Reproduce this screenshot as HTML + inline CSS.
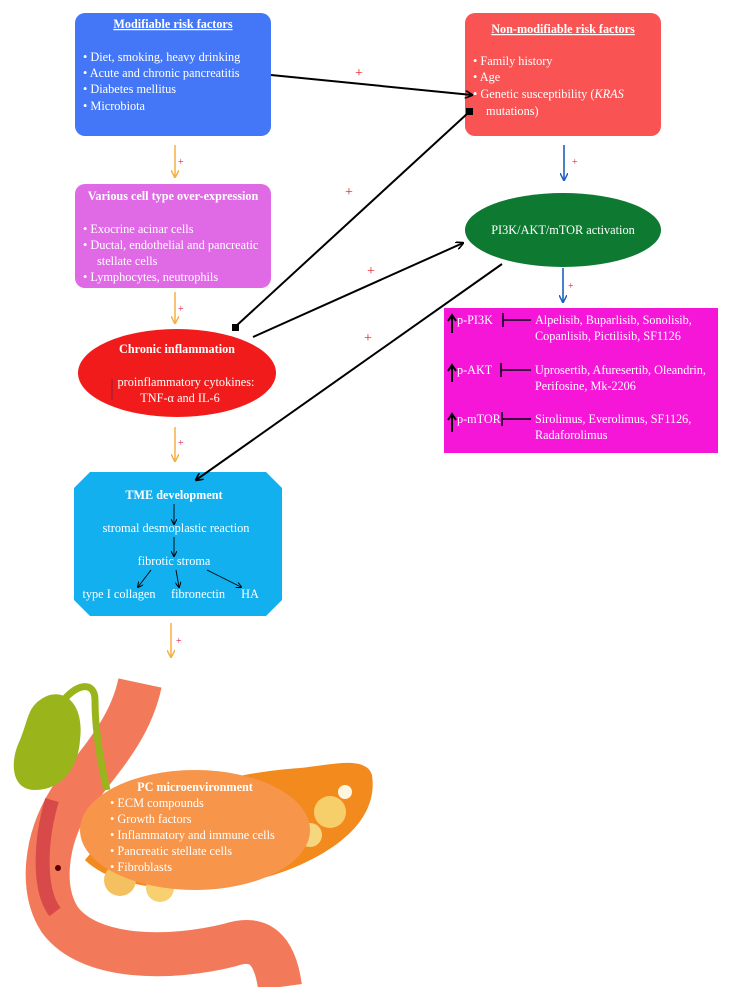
<!DOCTYPE html>
<html><head><meta charset="utf-8"><style>
body{margin:0;background:#fff;}
svg{display:block;font-family:"Liberation Serif",serif;}
</style></head><body>
<svg width="730" height="987" viewBox="0 0 730 987" xmlns="http://www.w3.org/2000/svg">
<defs>
<marker id="ab" markerWidth="8" markerHeight="8" refX="7" refY="4" orient="auto" markerUnits="userSpaceOnUse"><path d="M0,0 L8,4 L0,8" fill="none" stroke="#000" stroke-width="1.6"/></marker>
<marker id="ao" markerWidth="8" markerHeight="8" refX="7" refY="4" orient="auto" markerUnits="userSpaceOnUse"><path d="M0,0 L8,4 L0,8" fill="none" stroke="#f5b042" stroke-width="1.5"/></marker>
<marker id="abl" markerWidth="8" markerHeight="8" refX="7" refY="4" orient="auto" markerUnits="userSpaceOnUse"><path d="M0,0 L8,4 L0,8" fill="none" stroke="#1f5fbf" stroke-width="1.5"/></marker>
<marker id="at" markerWidth="6" markerHeight="6" refX="5" refY="3" orient="auto" markerUnits="userSpaceOnUse"><path d="M0,0 L6,3 L0,6" fill="none" stroke="#000" stroke-width="1"/></marker>
</defs>

<rect x="75" y="13" width="196" height="123" rx="10" fill="#4477f8"/>
<text x="173" y="28" fill="#fff" font-size="12.2" font-weight="bold" text-anchor="middle" text-decoration="underline">Modifiable risk factors</text>
<g fill="#fff" font-size="12.3">
<text x="83" y="61">•  Diet, smoking, heavy drinking</text>
<text x="83" y="77">•  Acute and chronic pancreatitis</text>
<text x="83" y="93">•  Diabetes mellitus</text>
<text x="83" y="110">•  Microbiota</text>
</g>

<rect x="465" y="13" width="196" height="123" rx="10" fill="#fa5353"/>
<text x="563" y="33" fill="#fff" font-size="12.2" font-weight="bold" text-anchor="middle" text-decoration="underline">Non-modifiable risk factors</text>
<g fill="#fff" font-size="12.3">
<text x="473" y="65">•  Family history</text>
<text x="473" y="81">•  Age</text>
<text x="473" y="98">•  Genetic susceptibility (<tspan font-style="italic">KRAS</tspan></text>
<text x="486" y="115">mutations)</text>
</g>

<rect x="75" y="184" width="196" height="104" rx="10" fill="#e06ae6"/>
<text x="173" y="200" fill="#fff" font-size="12.2" font-weight="bold" text-anchor="middle">Various cell type over-expression</text>
<g fill="#fff" font-size="12.3">
<text x="83" y="233">•  Exocrine acinar cells</text>
<text x="83" y="249">•  Ductal, endothelial and pancreatic</text>
<text x="97" y="265">stellate cells</text>
<text x="83" y="281">•  Lymphocytes, neutrophils</text>
</g>

<ellipse cx="563" cy="230" rx="98" ry="37" fill="#0e7a31"/>
<text x="563" y="234" fill="#fff" font-size="12.3" text-anchor="middle">PI3K/AKT/mTOR activation</text>

<rect x="444" y="308" width="274" height="145" fill="#f516d8"/>
<g fill="#fff" font-size="12.2">
<text x="457" y="324">p-PI3K</text>
<text x="535" y="324">Alpelisib, Buparlisib, Sonolisib,</text>
<text x="535" y="340">Copanlisib, Pictilisib, SF1126</text>
<text x="457" y="374">p-AKT</text>
<text x="535" y="374">Uprosertib, Afuresertib, Oleandrin,</text>
<text x="535" y="390">Perifosine, Mk-2206</text>
<text x="457" y="423">p-mTOR</text>
<text x="535" y="423">Sirolimus, Everolimus, SF1126,</text>
<text x="535" y="439">Radaforolimus</text>
</g>
<g stroke="#000" stroke-width="2" fill="none">
<path d="M452,333 V317"/><path d="M448,321 L452,315 L456,321"/>
<path d="M452,382 V367"/><path d="M448,371 L452,365 L456,371"/>
<path d="M452,432 V416"/><path d="M448,420 L452,414 L456,420"/>
</g>
<g stroke="#3a0040" stroke-width="2">
<path d="M503,313 V327 M503,320 H531"/>
<path d="M501,363 V377 M501,370 H531"/>
<path d="M502,412 V426 M502,419 H531"/>
</g>

<ellipse cx="177" cy="373" rx="99" ry="44" fill="#f21b1b"/>
<text x="177" y="353" fill="#fff" font-size="12.2" font-weight="bold" text-anchor="middle">Chronic inflammation</text>
<line x1="112" y1="379" x2="112" y2="400" stroke="#8a2040" stroke-width="1"/>
<text x="186" y="386" fill="#fff" font-size="12.3" text-anchor="middle">proinflammatory cytokines:</text>
<text x="180" y="402" fill="#fff" font-size="12.3" text-anchor="middle">TNF-α and IL-6</text>

<polygon points="90,472 266,472 282,488 282,600 266,616 90,616 74,600 74,488" fill="#13b0f0"/>
<text x="174" y="499" fill="#fff" font-size="12.2" font-weight="bold" text-anchor="middle">TME development</text>
<text x="176" y="532" fill="#fff" font-size="12.3" text-anchor="middle">stromal desmoplastic reaction</text>
<text x="174" y="565" fill="#fff" font-size="12.3" text-anchor="middle">fibrotic stroma</text>
<text x="119" y="598" fill="#fff" font-size="12.3" text-anchor="middle">type I collagen</text>
<text x="198" y="598" fill="#fff" font-size="12.3" text-anchor="middle">fibronectin</text>
<text x="250" y="598" fill="#fff" font-size="12.3" text-anchor="middle">HA</text>
<g stroke="#000" stroke-width="0.9" fill="none" marker-end="url(#at)">
<line x1="174" y1="504" x2="174" y2="524"/>
<line x1="174" y1="537" x2="174" y2="556"/>
<line x1="151" y1="570" x2="138" y2="587"/>
<line x1="176" y1="570" x2="179" y2="587"/>
<line x1="207" y1="570" x2="241" y2="587"/>
</g>

<g stroke="#f5b042" stroke-width="1.5" marker-end="url(#ao)">
<line x1="175" y1="145" x2="175" y2="177"/>
<line x1="175" y1="292" x2="175" y2="323"/>
<line x1="175" y1="427" x2="175" y2="461"/>
<line x1="171" y1="623" x2="171" y2="657"/>
</g>
<g fill="#e0204a" font-size="10"><text x="178" y="165">+</text><text x="178" y="312">+</text><text x="178" y="446">+</text><text x="176" y="644">+</text></g>
<g stroke="#1f5fbf" stroke-width="1.6" marker-end="url(#abl)">
<line x1="564" y1="145" x2="564" y2="180"/>
<line x1="563" y1="268" x2="563" y2="302"/>
</g>
<g fill="#e0204a" font-size="10"><text x="572" y="165">+</text><text x="568" y="289">+</text></g>

<g stroke="#000" stroke-width="2" fill="none">
<line x1="271" y1="75" x2="472" y2="95" marker-end="url(#ab)"/>
<line x1="235" y1="327" x2="468" y2="113"/>
<line x1="253" y1="337" x2="463" y2="243" marker-end="url(#ab)"/>
<line x1="502" y1="264" x2="196" y2="480" marker-end="url(#ab)"/>
</g>
<rect x="466" y="108" width="7" height="7" fill="#000"/>
<rect x="232" y="324" width="7" height="7" fill="#000"/>
<g fill="#e8141a" font-size="14"><text x="355" y="77">+</text><text x="345" y="196">+</text><text x="367" y="275">+</text><text x="364" y="342">+</text></g>

<!-- illustration -->
<path d="M140,683 C130,730 100,760 70,800 C45,840 40,890 60,920 C90,960 170,960 230,945 C260,935 275,950 280,987" fill="none" stroke="#f27a5a" stroke-width="44"/>
<path d="M52,800 C40,840 38,890 55,912" fill="none" stroke="#d84a4a" stroke-width="14"/>
<circle cx="58" cy="868" r="3" fill="#5a0000"/>
<path d="M85,860 C120,895 220,900 300,865 C345,845 378,815 372,775 C366,755 330,765 300,768 C240,772 140,790 85,860Z" fill="#f28a1e"/>
<circle cx="330" cy="812" r="16" fill="#f7cf6a"/>
<circle cx="310" cy="835" r="12" fill="#f7d680"/>
<circle cx="345" cy="792" r="7" fill="#fff6e0"/>
<circle cx="120" cy="880" r="16" fill="#f5c060"/>
<circle cx="160" cy="888" r="14" fill="#f8d070"/>
<path d="M40,700 C60,685 85,700 80,740 C78,770 60,790 35,790 C10,790 10,760 20,740 C28,720 28,708 40,700 Z" fill="#9ab51c"/>
<path d="M60,705 C75,683 95,680 95,700 C95,730 100,760 107,790" fill="none" stroke="#9ab51c" stroke-width="7"/>
<ellipse cx="195" cy="830" rx="115" ry="60" fill="#f7954a"/>
<text x="195" y="791" fill="#fff" font-size="12.2" font-weight="bold" text-anchor="middle">PC microenvironment</text>
<g fill="#fff" font-size="12.3">
<text x="110" y="807">•  ECM compounds</text>
<text x="110" y="823">•  Growth factors</text>
<text x="110" y="839">•  Inflammatory and immune cells</text>
<text x="110" y="855">•  Pancreatic stellate cells</text>
<text x="110" y="871">•  Fibroblasts</text>
</g>
</svg>
</body></html>
